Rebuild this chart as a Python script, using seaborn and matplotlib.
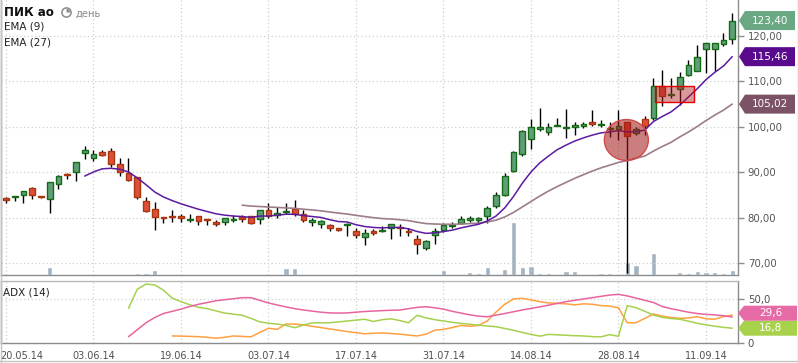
import numpy as np
import matplotlib
matplotlib.use("Agg")
import matplotlib.pyplot as plt
import matplotlib.transforms as mtransforms
from matplotlib.patches import Ellipse, Rectangle, Polygon, Circle, Wedge
from matplotlib.lines import Line2D
import seaborn as sns

# ---------------- data ----------------
title = "ПИК ао"
period = "день"
date_labels = ["20.05.14", "03.06.14", "19.06.14", "03.07.14", "17.07.14",
               "31.07.14", "14.08.14", "28.08.14", "11.09.14"]

opens = [84.38, 84.53, 85.04, 86.59, 84.82, 84.16, 87.47, 89.76, 90.13, 94.33,
         93.22, 94.55, 94.77, 91.89, 89.90, 89.02, 83.71, 81.95, 80.18, 80.40,
         80.40, 79.51, 80.40, 79.81, 79.07, 79.07, 79.51, 80.10, 80.40, 79.70,
         81.70, 80.74, 81.19, 82.00, 80.96, 79.19, 78.74, 78.44, 77.78, 78.37,
         77.04, 75.85, 77.11, 77.04, 77.85, 78.07, 77.19, 75.26, 73.48, 76.15,
         77.26, 78.15, 78.96, 79.56, 79.48, 80.37, 82.60, 85.11, 90.22, 94.00,
         97.33, 99.56, 98.81, 100.15, 99.70, 100.00, 100.22, 101.11, 100.37, 99.48,
         99.56, 101.11, 98.67, 101.78, 101.99, 108.90, 107.00, 108.38, 111.47, 112.35,
         117.21, 117.21, 118.31, 119.41]
highs = [84.67, 84.82, 86.00, 86.88, 84.90, 87.91, 89.54, 89.80, 92.34, 95.73,
         94.84, 94.84, 95.43, 93.07, 93.07, 89.10, 84.60, 83.57, 80.18, 81.80,
         80.84, 80.84, 80.40, 79.81, 79.59, 79.96, 80.55, 80.62, 80.40, 81.70,
         83.33, 82.30, 83.26, 84.00, 81.70, 79.93, 79.63, 78.74, 77.78, 78.96,
         77.85, 77.56, 77.56, 78.15, 78.59, 78.74, 77.85, 76.22, 75.19, 77.85,
         78.81, 79.04, 80.52, 80.52, 80.22, 82.52, 85.80, 89.78, 94.74, 99.41,
         101.85, 104.07, 100.89, 102.07, 103.85, 101.04, 101.19, 103.63, 101.63, 101.10,
         103.63, 101.11, 99.90, 102.37, 110.81, 112.43, 110.66, 112.06, 114.78, 117.94,
         118.53, 118.53, 120.74, 125.15]
lows = [83.27, 83.64, 83.27, 84.08, 84.30, 80.99, 86.29, 88.50, 88.06, 92.93,
        92.48, 93.51, 91.16, 89.24, 88.06, 84.08, 81.21, 77.23, 78.78, 79.00,
        79.00, 79.00, 78.41, 78.41, 78.19, 78.41, 79.00, 79.00, 78.63, 78.74,
        80.07, 80.07, 80.81, 80.52, 79.19, 78.30, 77.85, 77.19, 77.19, 76.07,
        75.48, 73.93, 76.15, 76.89, 75.26, 76.07, 76.07, 72.15, 72.96, 74.15,
        76.81, 77.78, 78.74, 79.04, 78.89, 78.89, 82.15, 84.89, 90.07, 93.70,
        95.19, 99.04, 98.22, 100.15, 97.56, 98.15, 99.70, 100.15, 99.93, 97.80,
        97.19, 67.80, 98.30, 98.15, 101.62, 104.56, 106.47, 104.93, 111.10, 112.21,
        111.76, 112.28, 117.79, 118.16]
closes = [83.94, 84.82, 85.93, 85.04, 84.53, 87.91, 89.24, 89.39, 92.34, 94.99,
          94.10, 93.81, 91.89, 90.13, 88.28, 84.53, 81.50, 80.10, 79.88, 80.10,
          79.96, 79.81, 79.29, 79.51, 78.63, 79.96, 79.81, 79.66, 78.85, 81.70,
          80.52, 81.11, 81.56, 80.96, 79.48, 79.56, 79.26, 77.70, 77.41, 78.67,
          76.15, 76.67, 76.74, 77.41, 78.59, 77.78, 76.81, 74.15, 74.81, 77.11,
          78.37, 78.44, 79.78, 80.00, 80.00, 82.15, 85.07, 89.19, 94.52, 99.11,
          100.00, 100.00, 100.00, 100.52, 100.00, 100.37, 100.59, 100.59, 100.74, 99.85,
          100.30, 97.93, 99.56, 100.30, 109.04, 106.84, 107.20, 111.03, 113.68, 115.44,
          118.53, 118.53, 119.12, 123.40]
volumes = [0, 0, 0, 0, 0, 8, 1, 0, 1, 1,
           0, 0, 0, 0, 0, 2, 2, 5, 0, 0,
           0, 1, 0, 0, 0, 0, 0, 0, 0, 1,
           0, 0, 7, 7, 1.3, 0, 0, 0, 0, 0,
           0, 0, 0, 0, 0, 0, 0, 1, 0, 1,
           5, 0, 1, 3, 2, 8, 1, 6, 53, 8,
           9, 2, 2, 0, 4, 4, 1, 0, 2, 2,
           1, 13.5, 10.5, 1, 22, 0, 1, 3, 2, 4,
           3, 3, 2, 5]

ema9_start = 9
ema9 = [89.2, 90.1, 90.8, 90.9, 90.7, 90.1, 88.8, 87.3, 85.7, 84.6,
        83.8, 83.1, 82.5, 81.9, 81.4, 80.9, 80.6, 80.4, 80.3, 80.1,
        80.4, 80.4, 80.6, 80.8, 80.8, 80.5, 80.3, 80.1, 79.6, 79.2,
        79.1, 78.5, 78.1, 77.9, 77.8, 77.9, 77.9, 77.6, 77.0, 76.6,
        76.7, 77.0, 77.3, 77.8, 78.2, 78.6, 79.3, 80.4, 82.2, 84.7,
        87.6, 90.1, 92.1, 93.6, 95.0, 96.0, 96.9, 97.6, 98.2, 98.7,
        98.9, 99.2, 98.9, 99.0, 99.3, 101.2, 102.3, 103.3, 104.8, 106.6,
        108.4, 110.4, 112.0, 113.4, 115.46]
ema27_start = 27
ema27 = [82.8, 82.6, 82.5, 82.4, 82.3, 82.2, 82.1, 81.9, 81.75, 81.55,
         81.3, 81.05, 80.85, 80.55, 80.3, 80.05, 79.85, 79.75, 79.6, 79.4,
         79.05, 78.75, 78.65, 78.6, 78.6, 78.65, 78.75, 78.85, 79.1, 79.5,
         80.2, 81.2, 82.4, 83.6, 84.8, 85.9, 86.9, 87.8, 88.7, 89.5,
         90.3, 91.0, 91.6, 92.2, 92.6, 93.1, 93.6, 94.7, 95.7, 96.6,
         97.8, 98.9, 100.1, 101.4, 102.6, 103.7, 105.02]

adx_start = 14
adx = [7.2, 15, 23, 29, 33.5, 36, 38.5, 41.5, 44, 46,
       48, 49.2, 50.3, 51.5, 51.5, 48.5, 45.5, 43.2, 41, 39,
       37.5, 36.2, 35, 34.2, 34, 34.2, 35, 35.8, 36.3, 36.8,
       37.2, 37.4, 39, 40.5, 41.2, 40, 38.5, 36, 34, 32,
       30.5, 29.8, 31.7, 33.5, 35.5, 37.5, 39.3, 41, 43, 45,
       47, 48.5, 50, 51.5, 53, 54.5, 55.3, 53.5, 51, 48.5,
       46, 41.5, 39, 37, 35, 33.5, 32.5, 32, 31, 29.6]
di_minus_start = 14
di_minus = [39.4, 61, 67, 66, 60, 51, 47, 43.5, 40.5, 39,
            36.5, 34, 32.8, 31.5, 28, 24, 22.5, 21.5, 20, 17.4,
            20.5, 22.8, 23, 23, 24, 25, 26, 27, 24.5, 26.5,
            27.5, 25.5, 23, 31.5, 28.5, 26.5, 25, 23.5, 22.3, 21.3,
            20.3, 19.3, 18.5, 16.5, 14.5, 12, 9.9, 7.8, 9.8, 9.3,
            8.8, 8.3, 8, 7.2, 7, 9.5, 7.6, 42.4, 40.2, 36,
            31.8, 29.2, 27.8, 27, 24.8, 22.4, 20.6, 19.1, 17.8, 16.8]
di_plus_start = 19
di_plus = [8, 7.8, 7.5, 7.2, 6.5, 5.5, 6.5, 8, 7.5, 7,
           12, 16.7, 15.5, 21.6, 21.5, 20.5, 19, 17.5, 16, 14.5,
           13, 11.7, 10.5, 11, 11.5, 10.8, 10, 9, 8, 10,
           14.5, 15.5, 17.5, 20, 19, 20, 25, 35, 44, 50,
           50.8, 49, 47, 45.5, 45, 44.5, 43.3, 44.5, 44, 42.5,
           42, 40, 23, 23, 28, 33, 30.5, 29, 28, 28.5,
           29.8, 27.5, 27, 30, 31.7]

# ---------------- style ----------------
sns.set_style("white")
plt.rcParams["font.family"] = ["DejaVu Sans"]

W, H = 798.0, 363.0
fig = plt.figure(figsize=(W / 100, H / 100), dpi=100, facecolor="white")


def rect(x0, y0, x1, y1):
    return [x0 / W, 1 - y1 / H, (x1 - x0) / W, (y1 - y0) / H]


n = len(closes)
idx = np.arange(n)
o = np.array(opens); c = np.array(closes)
hi = np.array(highs); lo = np.array(lows)
x_lo, x_hi = -0.57, 83.66
y_lo, y_hi = 67.44, 127.92
grid_col = "#c9d3c9"
spine_col = "#8c8c8c"

# volume axis behind the price axis
ax_vol = fig.add_axes(rect(1, 0, 738, 275), zorder=0)
sns.barplot(x=idx, y=volumes, ax=ax_vol, color="#a3b3c1", saturation=1,
            width=0.6, errorbar=None)
ax_vol.set_xlim(x_lo, x_hi)
ax_vol.set_ylim(0, 275)
ax_vol.axis("off")

ax = fig.add_axes(rect(1, 0, 738, 275), zorder=1)
ax.set_facecolor("none")
ax.set_xlim(x_lo, x_hi)
ax.set_ylim(y_lo, y_hi)

# candles
up = c >= o
body_lo = np.minimum(o, c)
body_h = np.maximum(np.abs(c - o), 0.22)
ax.vlines(idx, lo, hi, color="black", lw=1, zorder=2)
ax.bar(idx[up], body_h[up], bottom=body_lo[up], width=0.64, color="#5f9f77",
       edgecolor="#156b15", linewidth=1, zorder=3)
ax.bar(idx[~up], body_h[~up], bottom=body_lo[~up], width=0.64, color="#dd4f37",
       edgecolor="#a8360f", linewidth=1, zorder=3)

# EMAs
sns.lineplot(x=idx[ema27_start:], y=ema27, ax=ax, color="#9c7d88", linewidth=1.2, zorder=4)
sns.lineplot(x=idx[ema9_start:], y=ema9, ax=ax, color="#5c1a9e", linewidth=1.1, zorder=4)

# highlight shapes
ax.add_patch(Ellipse((70.9, 97.13), 5.03, 9.0, facecolor=(0.63, 0.08, 0.08, 0.55),
                     edgecolor="#d24a4a", lw=1, zorder=5))
ax.add_patch(Rectangle((74.17, 105.42), 4.43, 3.52, facecolor=(0.68, 0.12, 0.12, 0.45),
                       edgecolor="#e00000", lw=1, zorder=5))

ax.set_xticks(range(0, n, 10))
ax.set_yticks([70, 80, 90, 100, 110, 120])
ax.set_yticklabels([f"{v:.2f}".replace(".", ",") for v in [70, 80, 90, 100, 110, 120]])
ax.yaxis.tick_right()
ax.tick_params(axis="y", length=4, width=1, color=spine_col, labelsize=7.3,
               labelcolor="#555555", pad=3)
ax.tick_params(axis="x", length=0, labelbottom=False)
ax.grid(True, color=grid_col, linestyle=(0, (1, 2)), linewidth=0.9)
ax.set_xlabel(""); ax.set_ylabel("")
for s in ["left", "bottom", "right"]:
    ax.spines[s].set_color(spine_col)
    ax.spines[s].set_linewidth(1)
ax.spines["top"].set_visible(False)

# ADX panel
axa = fig.add_axes(rect(1, 281, 738, 343))
axa.set_facecolor("white")
axa.set_xlim(x_lo, x_hi)
axa.set_ylim(0, 70.45)
sns.lineplot(x=idx[di_plus_start:], y=di_plus, ax=axa, color="#ffa040", linewidth=1.1)
sns.lineplot(x=idx[di_minus_start:], y=di_minus, ax=axa, color="#a6d04e", linewidth=1.1)
sns.lineplot(x=idx[adx_start:], y=adx, ax=axa, color="#e8649f", linewidth=1.1)
axa.set_xticks(range(0, n, 10))
axa.set_xticklabels(date_labels)
axa.set_yticks([0, 50])
axa.set_yticklabels(["0", "50,0"])
axa.yaxis.tick_right()
axa.tick_params(axis="both", length=4, width=1, color=spine_col, labelsize=7.0,
                labelcolor="#505050", pad=2)
axa.tick_params(axis="y", labelsize=7.3, pad=3)
axa.grid(True, color=grid_col, linestyle=(0, (1, 2)), linewidth=0.9)
axa.set_xlabel(""); axa.set_ylabel("")
for s in ["left", "bottom", "right", "top"]:
    axa.spines[s].set_color(spine_col)
    axa.spines[s].set_linewidth(1)
axa.spines["top"].set_color("#b8b8b8")
first = axa.get_xticklabels()[0]
first.set_horizontalalignment("left")
first.set_transform(first.get_transform() +
                    mtransforms.ScaledTranslation(-0.06, 0, fig.dpi_scale_trans))


# ---------------- value tags ----------------
def tag(axis, value, text, color, h, x0, x1, ypix=None):
    if ypix is None:
        _, ypix = axis.transData.transform((0, value))
    pts = [(x0, ypix), (x0 + 6, ypix + h / 2), (x1, ypix + h / 2),
           (x1, ypix - h / 2), (x0 + 6, ypix - h / 2)]
    pts = [(px / W, py / H) for px, py in pts]
    fig.add_artist(Polygon(pts, closed=True, transform=fig.transFigure,
                           facecolor=color, edgecolor="none", zorder=10))
    fig.text((x0 + 6 + x1) / 2 / W, ypix / H, text, color="white", fontsize=7.5,
             ha="center", va="center", zorder=11)
    return ypix


tag(ax, closes[-1], f"{closes[-1]:.2f}".replace(".", ","), "#6aa884", 19, 739, 795)
tag(ax, ema9[-1], f"{ema9[-1]:.2f}".replace(".", ","), "#5a0a8c", 19, 739, 795)
tag(ax, ema27[-1], f"{ema27[-1]:.2f}".replace(".", ","), "#7b5266", 19, 739, 795)
_, yg = axa.transData.transform((0, di_minus[-1]))
_, yp = axa.transData.transform((0, adx[-1]))
if yp - yg < 15:
    yp = yg + 15
tag(axa, di_minus[-1], f"{di_minus[-1]:.1f}".replace(".", ","), "#a8d24c", 15, 738, 797, yg)
tag(axa, adx[-1], f"{adx[-1]:.1f}".replace(".", ","), "#e66aa6", 15, 738, 797, yp)

# ---------------- header texts ----------------
fig.text(4 / W, 1 - 12 / H, title, fontsize=8.6, fontweight="bold", color="#111111", va="center")
icon_c = (66.5, H - 12.5)
fig.add_artist(Circle(icon_c, 5.4, transform=None, facecolor="#8e8e8e", edgecolor="none", zorder=12))
fig.add_artist(Circle(icon_c, 3.8, transform=None, facecolor="white", edgecolor="none", zorder=13))
fig.add_artist(Wedge(icon_c, 3.8, 0, 90, transform=None, facecolor="#8e8e8e",
                     edgecolor="none", zorder=14))
fig.text(76 / W, 1 - 13.5 / H, period, fontsize=7.2, color="#8a8a8a", va="center")
fig.text(4 / W, 1 - 26.5 / H, "EMA (9)", fontsize=7.5, color="#222222", va="center")
fig.text(4 / W, 1 - 42.5 / H, "EMA (27)", fontsize=7.5, color="#222222", va="center")
fig.text(3 / W, 1 - 292.5 / H, "ADX (14)", fontsize=7.5, color="#222222", va="center")

# outer frame
for xs, ys in [([0.5, 0.5], [0, H]), ([797.5, 797.5], [2.5, H]), ([0, 797.5], [2.5, 2.5])]:
    fig.add_artist(Line2D([x / W for x in xs], [y / H for y in ys],
                          transform=fig.transFigure, color="#c4c4c4", lw=1))

fig.savefig("out.png", dpi=100, facecolor="white")
